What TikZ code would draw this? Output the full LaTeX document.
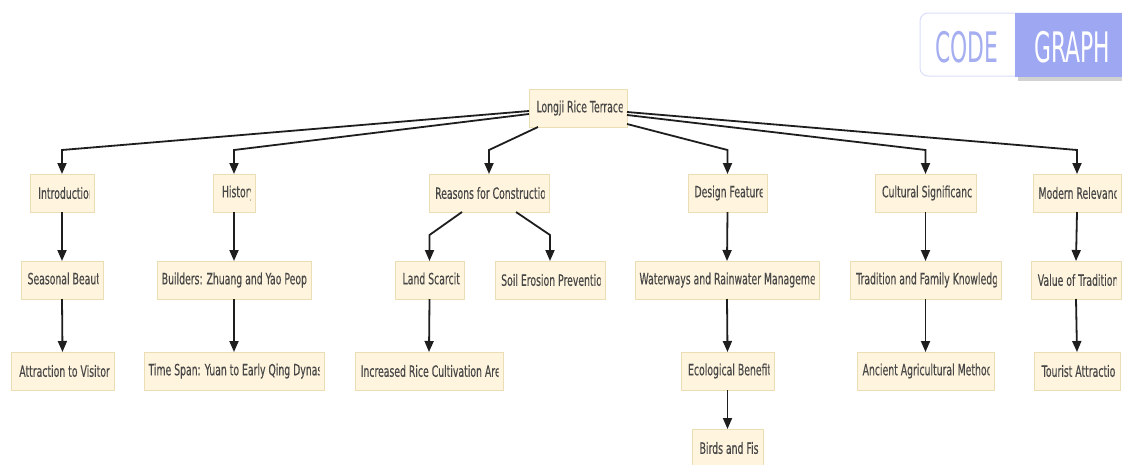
\documentclass[tikz,border=0pt]{standalone}
\usepackage{fontspec}
\setmainfont[FakeStretch=0.6,FakeBold=0.35]{DejaVu Sans}
\newfontfamily\togfont[FakeStretch=0.52]{DejaVu Sans}
\usetikzlibrary{arrows.meta,calc}
\definecolor{boxfill}{RGB}{255,244,221}
\definecolor{boxline}{RGB}{236,222,180}
\definecolor{txtcol}{RGB}{72,72,72}
\definecolor{edgecol}{RGB}{30,30,30}
\definecolor{graphfill}{RGB}{158,168,242}
\definecolor{codetext}{RGB}{165,174,240}
\definecolor{togline}{RGB}{218,222,250}
\tikzset{
  box/.style={draw=boxline, fill=boxfill, line width=0.8pt, minimum height=38pt, inner sep=0pt, outer sep=0pt},
  lbl/.style={inner sep=0pt, outer sep=0pt, text=txtcol, font=\fontsize{15.5}{17}\selectfont},
  arr/.style={draw=edgecol, line width=1.8pt, -{Triangle[length=11pt,width=9pt]}},
  togtxt/.style={inner sep=0pt, font=\togfont\fontsize{42}{44}\selectfont}
}
% name, x0, x1, yc, text
\newcommand{\tb}[5]{%
  \node[box, minimum width={#3-#2},
    path picture={
      \clip ([xshift=4.5pt]path picture bounding box.south west) rectangle ([xshift=-4.5pt]path picture bounding box.north east);
      \node[lbl, anchor=west] at ([xshift=4.5pt]path picture bounding box.west) {#5};
    }] (#1) at ({(#2+#3)/2},#4) {};%
}
\begin{document}
\begin{tikzpicture}[x=1pt,y=-1pt]
\clip (0,0) rectangle (1122,464);
\fill[white] (0,0) rectangle (1122,464);

% toggle
\draw[draw=togline, fill=white, rounded corners=8pt, line width=1pt] (920,13) rectangle (1150,76);
\fill[black!18] (1018,17) rectangle (1150,81);
\fill[graphfill] (1015,13) rectangle (1150,77);
\node[togtxt, text=codetext] (code) at (967,47) {CODE};
\node[togtxt, text=white] (graph) at (1072,47) {GRAPH};

% nodes
\tb{root}{529}{627}{108}{Longji Rice Terraces}
\tb{intro}{30}{94}{193}{Introduction}
\tb{hist}{213}{255}{193}{History}
\tb{reas}{429}{549}{193}{Reasons for Construction}
\tb{design}{688}{767}{193}{Design Features}
\tb{cult}{875}{976}{193}{Cultural Significance}
\tb{modern}{1033}{1121}{193}{Modern Relevance}

\tb{season}{21}{103}{280}{Seasonal Beauty}
\tb{build}{157}{311}{280}{Builders: Zhuang and Yao People}
\tb{land}{395}{464}{280}{Land Scarcity}
\tb{soil}{495}{605}{280}{Soil Erosion Prevention}
\tb{water}{635}{819}{280}{Waterways and Rainwater Management}
\tb{trad}{850}{1001}{280}{Tradition and Family Knowledge}
\tb{value}{1031}{1121}{280}{Value of Traditions}

\tb{attr}{11}{114}{371}{Attraction to Visitors}
\tb{time}{144}{324}{371}{Time Span: Yuan to Early Qing Dynasty}
\tb{incr}{355}{503}{371}{Increased Rice Cultivation Area}
\tb{eco}{681}{774}{371}{Ecological Benefits}
\tb{anc}{857}{994}{371}{Ancient Agricultural Methods}
\tb{tour}{1034}{1120}{371}{Tourist Attraction}

\tb{birds}{692}{763}{448}{Birds and Fish}

% edges from root
\draw[arr] ([yshift=-3pt]root.west) -- ([yshift=24pt]intro.north) -- (intro.north);
\draw[arr] ([yshift=-6pt]root.west) -- ([yshift=24pt]hist.north) -- (hist.north);
\draw[arr] ([xshift=-40pt]root.south) -- ([yshift=24pt]reas.north) -- (reas.north);
\draw[arr] ([yshift=-16pt]root.east) -- ([yshift=24pt]design.north) -- (design.north);
\draw[arr] ([yshift=-7pt]root.east) -- ([yshift=24pt]cult.north) -- (cult.north);
\draw[arr] ([yshift=-4pt]root.east) -- ([yshift=24pt]modern.north) -- (modern.north);

% level 1 -> 2
\draw[arr] (intro.south) -- (season.north);
\draw[arr] (hist.south) -- (build.north);
\draw[arr] ([xshift=-27pt]reas.south) -- ([yshift=26pt]land.north) -- (land.north);
\draw[arr] ([xshift=27pt]reas.south) -- ([yshift=26pt]soil.north) -- (soil.north);
\draw[arr] (design.south) -- (water.north);
\draw[arr] (cult.south) -- (trad.north);
\draw[arr] (modern.south) -- (value.north);

% level 2 -> 3
\draw[arr] (season.south) -- (attr.north);
\draw[arr] (build.south) -- (time.north);
\draw[arr] (land.south) -- (incr.north);
\draw[arr] (water.south) -- (eco.north);
\draw[arr] (trad.south) -- (anc.north);
\draw[arr] (value.south) -- (tour.north);

% level 3 -> 4
\draw[arr] (eco.south) -- (birds.north);
\end{tikzpicture}
\end{document}
